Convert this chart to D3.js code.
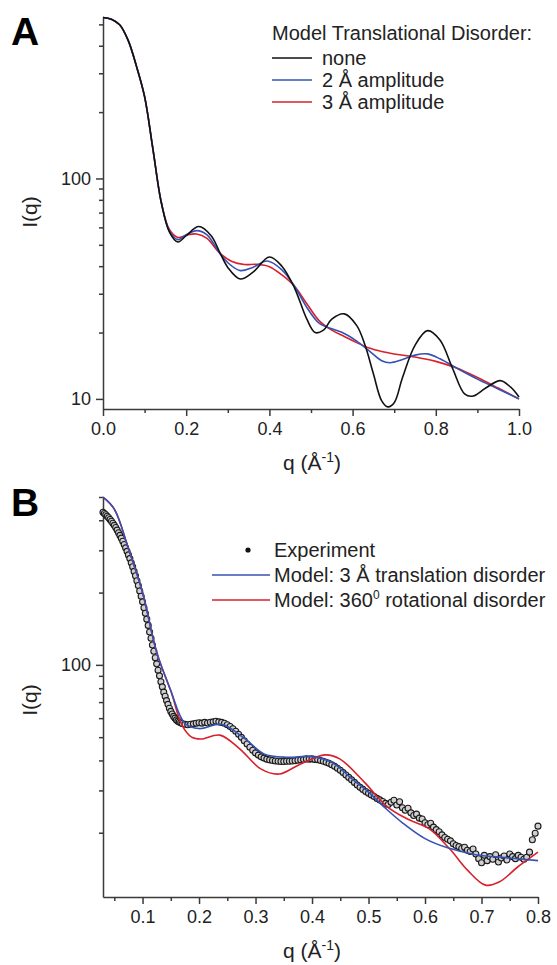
<!DOCTYPE html>
<html>
<head>
<meta charset="UTF-8">
<script src="https://cdn.jsdelivr.net/npm/d3@7"></script>
<style>
  body { margin: 0; background: #fff; }
  svg { font-family: "Liberation Sans", Arial, sans-serif; }
  .axis path, .axis line { stroke: #3a3a3a; stroke-width: 1.5; }
  .axis text { font-size: 18px; fill: #222; font-family: "Liberation Sans", Arial, sans-serif; }
  .curve { fill: none; stroke-width: 1.6; }
  .legend text { font-size: 20px; fill: #222; }
  .title { font-size: 21px; fill: #222; }
  .panel { font-size: 39px; font-weight: bold; fill: #000; }
</style>
</head>
<body>
<div id="chart"></div>
<script>
// ---- panel A: model curves ----
var qNone = [0,0.02,0.04,0.06,0.08,0.10,0.12,0.14,0.16,0.18,0.20,0.23,0.26,0.28,0.30,0.33,0.36,0.40,0.43,0.46,0.49,0.51,0.53,0.55,0.58,0.61,0.63,0.65,0.67,0.685,0.70,0.72,0.75,0.78,0.81,0.84,0.87,0.89,0.92,0.955,0.98,1.00];
var iNone = [537,528,498,425,325,235,136,78,57,51.5,55,60.5,55,46.5,39.5,35,37.5,44,40,32,23,20,20.5,23,24.3,21.5,17.5,13,9.8,9.2,9.6,12.5,17.5,20.4,18.5,13.8,10.5,10.3,11.2,12.1,11.3,10.2];

var qAmp2 = [0,0.02,0.04,0.06,0.08,0.10,0.12,0.14,0.16,0.18,0.20,0.225,0.25,0.28,0.30,0.33,0.36,0.395,0.43,0.46,0.49,0.52,0.55,0.58,0.61,0.64,0.67,0.69,0.72,0.75,0.78,0.81,0.85,0.90,0.95,1.00];
var iAmp2 = [537,528,498,425,325,235,136,78,57.5,52.8,55.5,58,55.5,46,41.5,38.2,39.5,42.2,38.5,32.5,26,22,20.8,19.8,18.3,16.5,14.9,14.6,15.1,15.8,16,15.2,13.8,12.3,11.1,10];

var qAmp3 = [0,0.02,0.04,0.06,0.08,0.10,0.12,0.14,0.16,0.18,0.20,0.225,0.25,0.28,0.31,0.34,0.37,0.40,0.43,0.46,0.49,0.52,0.55,0.58,0.61,0.64,0.67,0.70,0.75,0.80,0.85,0.90,0.95,1.00];
var iAmp3 = [537,528,498,425,325,235,136,78,58.5,54,55.3,56,53.5,46,42,40.7,40.8,39.8,36.5,32.5,27,22.6,20.5,19.2,18,17,16.4,16,15.5,14.8,13.8,12.5,11.2,10];

var legendA = ["none", "2 \u00C5 amplitude", "3 \u00C5 amplitude"];
var coloursA = ["#111111", "#3452b4", "#d9202c"];

// ---- panel B: experiment and two models ----
var expQ = [0.0300,0.0325,0.0350,0.0375,0.0400,0.0425,0.0450,0.0475,0.0500,0.0525,
  0.0550,0.0575,0.0600,0.0625,0.0650,0.0675,0.0700,0.0725,0.0750,0.0775,
  0.0800,0.0825,0.0850,0.0875,0.0900,0.0925,0.0950,0.0975,0.1000,0.1025,
  0.1050,0.1075,0.1100,0.1125,0.1150,0.1175,0.1200,0.1225,0.1250,0.1275,
  0.1300,0.1325,0.1350,0.1375,0.1400,0.1425,0.1450,0.1475,0.1500,0.1525,
  0.1550,0.1575,0.1600,0.1625,0.1650,0.1675,0.1700,0.175,
  0.180,0.185,0.190,0.195,0.200,0.205,0.210,0.215,0.220,0.225,
  0.230,0.235,0.240,0.245,0.250,0.255,0.260,0.265,0.270,0.275,
  0.280,0.285,0.290,0.295,0.300,0.305,0.310,0.315,0.320,0.325,
  0.330,0.335,0.340,0.345,0.350,0.355,0.360,0.365,0.370,0.375,
  0.380,0.385,0.390,0.395,0.400,0.405,0.410,0.415,0.420,0.425,
  0.430,0.435,0.440,0.445,0.450,0.455,0.460,0.465,0.470,0.475,
  0.480,0.485,0.490,0.495,0.500,0.505,0.510,0.515,0.520,0.525,
  0.530,0.535,0.540,0.545,0.550,0.555,0.560,0.565,0.570,0.575,
  0.580,0.585,0.590,0.595,0.600,0.605,0.610,0.615,0.620,0.625,
  0.630,0.635,0.640,0.645,0.650,0.655,0.660,0.665,0.670,0.675,
  0.680,0.685,0.690,0.695,0.700,0.705,0.710,0.715,0.720,0.725,
  0.730,0.735,0.740,0.745,0.750,0.755,0.760,0.765,0.770,0.775,
  0.780,0.785,0.790,0.795,0.800];
var expI = [432,427,422,416,410,403,396,389,381,373,
  364,355,346,337,327,317,307,297,287,277,
  266,256,245,235,224,214,203,193,183,173,
  164,155,146,137,129,121,114,107,101,95,
  90,85,81,77,74,71,68.5,66,64,62.4,
  61,60,59,58.3,57.8,57.4,57,56.6,
  56.3,56.6,56.8,57.1,57.4,57.2,57.6,57.3,57.7,57.9,
  58.2,57.9,57.6,57.1,56.3,55.4,54.2,52.9,51.4,49.9,
  48.3,46.8,45.4,44.1,43.0,42.1,41.4,40.9,40.5,40.2,
  40.0,39.8,39.7,39.6,39.6,39.7,39.7,39.8,39.9,40.1,
  40.2,40.4,40.6,40.5,40.6,40.4,40.3,40.0,39.7,39.3,
  38.9,38.4,37.8,37.1,36.4,35.6,34.8,34.0,33.2,32.4,
  31.6,30.9,30.3,29.7,29.2,28.7,28.3,27.8,27.4,27.0,
  26.5,26.2,26.8,27.3,26.1,26.9,25.4,24.8,25.3,24.2,
  23.6,23.9,23.0,22.8,22.0,21.6,21.9,21.1,20.6,20.2,
  19.6,19.1,18.8,18.5,18.0,17.7,17.5,17.2,17.4,16.9,
  16.7,17.1,16.3,15.6,15.0,16.1,15.3,15.9,15.5,16.2,
  15.1,15.7,16.0,15.4,16.3,15.9,15.6,16.1,15.8,15.5,
  15.8,16.6,18.7,19.9,21.3];

var qTrans = [0.03,0.05,0.075,0.10,0.125,0.15,0.175,0.20,0.24,0.28,0.315,0.355,0.40,0.435,0.47,0.50,0.53,0.56,0.60,0.64,0.69,0.75,0.80];
var iTrans = [499,445,305,200,113,78,57,54.3,56.6,49.5,42.6,41.2,41.5,39.3,33.6,29.5,25.3,22,18.9,17.3,16.2,15.7,15.3];

var qRot = [0.03,0.05,0.075,0.10,0.125,0.15,0.17,0.187,0.203,0.237,0.272,0.31,0.342,0.379,0.423,0.449,0.493,0.531,0.569,0.607,0.644,0.676,0.707,0.732,0.764,0.80];
var iRot = [499,445,305,200,113,78,56,50,49.1,51,44.7,36.8,35.1,38.6,42.2,40.6,32.4,25.9,22.8,20.8,17.1,13.9,12.1,12.5,14.4,16.6];

var legendB = ["Experiment", "Model: 3 \u00C5 translation disorder", "Model: 360", " rotational disorder"];
var coloursB = ["#3452b4", "#d9202c"];

// tick values
var yMajor = [10, 100];
var yMinor = [20,30,40,50,60,70,80,90,200,300,400,500];
var xMajorA = [0, 0.2, 0.4, 0.6, 0.8, 1.0];
var xMinorA = [0.1, 0.3, 0.5, 0.7, 0.9];
var xMajorB = [0.1, 0.2, 0.3, 0.4, 0.5, 0.6, 0.7, 0.8];
var xMinorB = [0.05, 0.15, 0.25, 0.35, 0.45, 0.55, 0.65, 0.75];

var svg = d3.select("#chart").append("svg")
  .attr("width", 557).attr("height", 965);

function pairs(q, v) { return q.map(function(d, i) { return [d, v[i]]; }); }

function drawAxes(x, y, xMaj, xMin, xFmt) {
  var bottom = y.range()[0], left = x.range()[0];
  var lo = y.domain()[0], hi = y.domain()[1];
  function inside(v) { return v >= lo && v <= hi; }
  svg.append("g").attr("class", "axis")
    .attr("transform", "translate(0," + bottom + ")")
    .call(d3.axisBottom(x).tickValues(xMin).tickSize(4).tickFormat(""))
    .select(".domain").remove();
  svg.append("g").attr("class", "axis")
    .attr("transform", "translate(0," + bottom + ")")
    .call(d3.axisBottom(x).tickValues(xMaj).tickSizeInner(7).tickSizeOuter(0).tickPadding(6).tickFormat(xFmt));
  svg.append("g").attr("class", "axis")
    .attr("transform", "translate(" + left + ",0)")
    .call(d3.axisLeft(y).tickValues(yMinor.filter(inside)).tickSize(4).tickFormat(""))
    .select(".domain").remove();
  svg.append("g").attr("class", "axis")
    .attr("transform", "translate(" + left + ",0)")
    .call(d3.axisLeft(y).tickValues(yMajor.filter(inside)).tickSizeInner(7).tickSizeOuter(0).tickPadding(5).tickFormat(d3.format("d")));
}

function axisTitles(xMid, yMid, xBase) {
  svg.append("text").attr("class", "title")
    .attr("transform", "translate(37," + yMid + ") rotate(-90)")
    .attr("text-anchor", "middle").text("I(q)");
  var t = svg.append("text").attr("class", "title")
    .attr("x", xMid).attr("y", xBase).attr("text-anchor", "middle");
  t.append("tspan").text("q (\u00C5");
  t.append("tspan").attr("dy", -8).attr("font-size", "14px").text("-1");
  t.append("tspan").attr("dy", 8).text(")");
}

var line = function(x, y) {
  return d3.line().x(function(d) { return x(d[0]); }).y(function(d) { return y(d[1]); })
    .curve(d3.curveCatmullRom.alpha(0.5));
};

// ===== Panel A =====
var xA = d3.scaleLinear().domain([0, 1]).range([103, 519]);
var yA = d3.scaleLog().domain([9, 540]).range([409, 17]);

drawAxes(xA, yA, xMajorA, xMinorA, d3.format(".1f"));
axisTitles(312, 212, 470);

var seriesA = [pairs(qNone, iNone), pairs(qAmp2, iAmp2), pairs(qAmp3, iAmp3)];
[2, 1, 0].forEach(function(k) {
  svg.append("path").attr("class", "curve")
    .attr("d", line(xA, yA)(seriesA[k]))
    .attr("stroke", coloursA[k]);
});

svg.append("text").attr("class", "panel").attr("x", 11).attr("y", 45).text("A");

var legA = svg.append("g").attr("class", "legend");
legA.append("text").attr("x", 272).attr("y", 40).text("Model Translational Disorder:");
legendA.forEach(function(name, i) {
  var yy = 58 + i * 22;
  legA.append("line").attr("x1", 272).attr("x2", 312).attr("y1", yy).attr("y2", yy)
    .attr("stroke", coloursA[i]).attr("stroke-width", 1.6);
  legA.append("text").attr("x", 322).attr("y", yy + 7).text(name);
});

// ===== Panel B =====
var xB = d3.scaleLinear().domain([0.03, 0.8]).range([103, 538]);
var yB = d3.scaleLog().domain([10.8, 500]).range([897, 497]);

drawAxes(xB, yB, xMajorB, xMinorB, d3.format(".1f"));
axisTitles(312, 700, 958);

svg.append("g").selectAll("circle")
  .data(pairs(expQ, expI)).enter()
  .append("circle")
  .attr("cx", function(d) { return xB(d[0]); })
  .attr("cy", function(d) { return yB(d[1]); })
  .attr("r", 3)
  .attr("fill", "#d0d0d0")
  .attr("stroke", "#1a1a1a")
  .attr("stroke-width", 1.1);

var seriesB = [pairs(qTrans, iTrans), pairs(qRot, iRot)];
[1, 0].forEach(function(k) {
  svg.append("path").attr("class", "curve")
    .attr("d", line(xB, yB)(seriesB[k]))
    .attr("stroke", coloursB[k]);
});

svg.append("text").attr("class", "panel").attr("x", 11).attr("y", 516).text("B");

var legB = svg.append("g").attr("class", "legend");
legB.append("circle").attr("cx", 248).attr("cy", 550).attr("r", 2.6).attr("fill", "#111");
legB.append("text").attr("x", 274).attr("y", 557).text(legendB[0]);
[0, 1].forEach(function(i) {
  var yy = 575 + i * 25;
  legB.append("line").attr("x1", 212).attr("x2", 270).attr("y1", yy).attr("y2", yy)
    .attr("stroke", coloursB[i]).attr("stroke-width", 1.6);
});
legB.append("text").attr("x", 274).attr("y", 582).text(legendB[1]);
var rt = legB.append("text").attr("x", 274).attr("y", 607);
rt.append("tspan").text(legendB[2]);
rt.append("tspan").attr("dy", -8).attr("font-size", "12px").text("0");
rt.append("tspan").attr("dy", 8).text(legendB[3]);
</script>
</body>
</html>
